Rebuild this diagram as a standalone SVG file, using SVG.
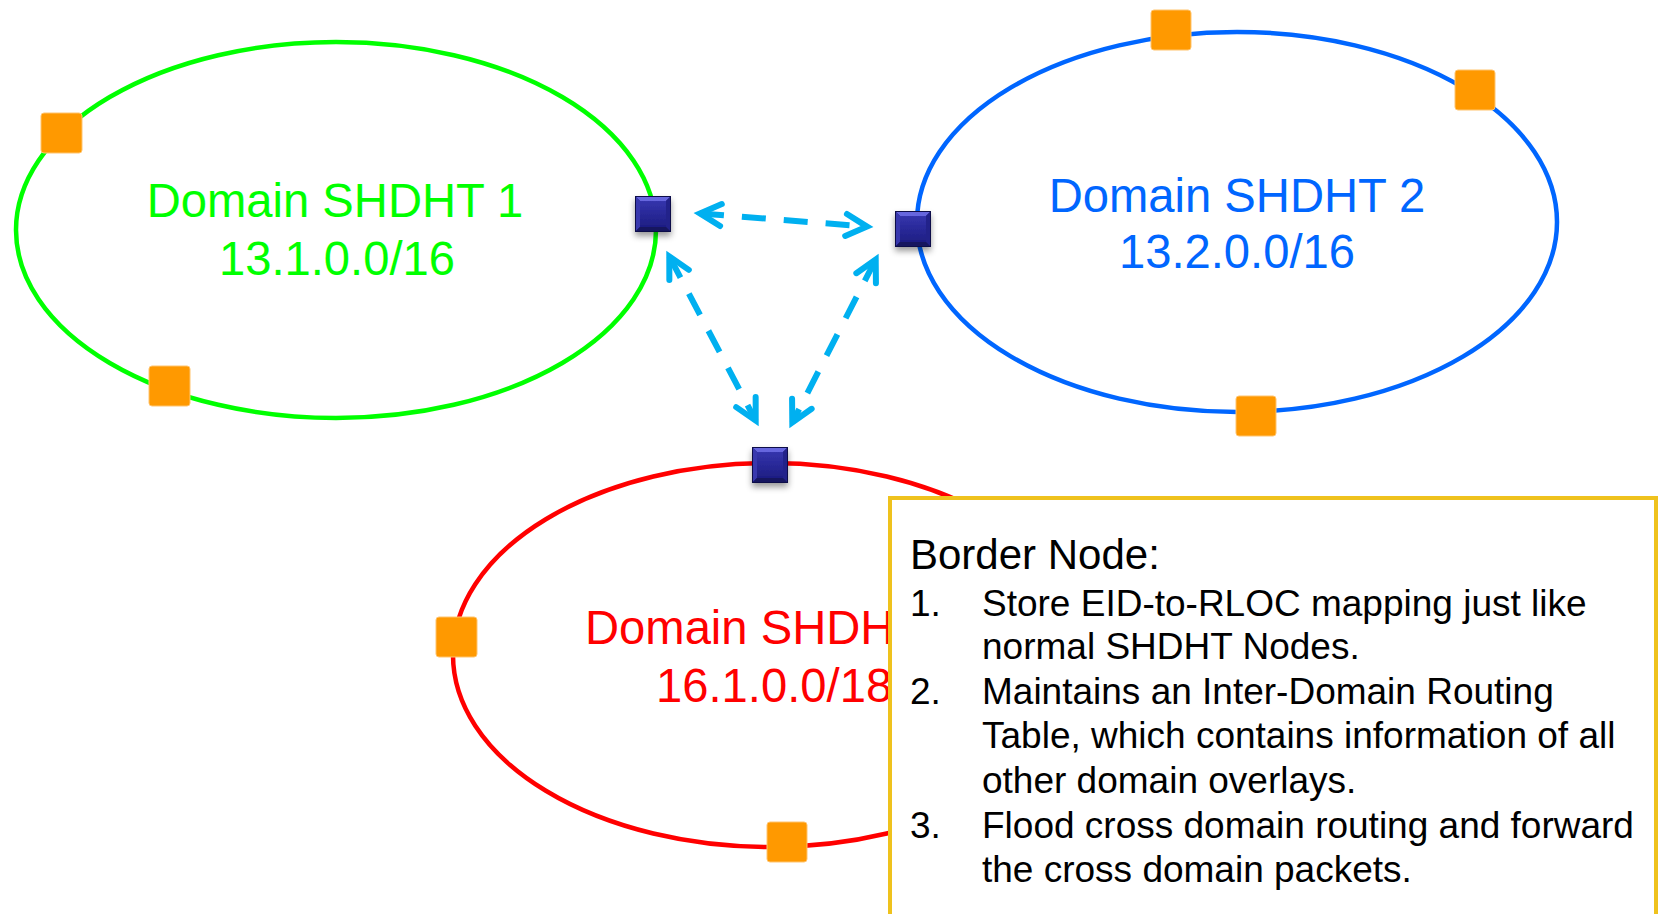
<svg xmlns="http://www.w3.org/2000/svg" xmlns:xlink="http://www.w3.org/1999/xlink" width="1660" height="914" viewBox="0 0 1660 914">
  <style>
    .ring { fill: none; stroke-width: 4.5; }
    .label { font-family: "Liberation Sans", Arial, sans-serif; font-size: 47.2px; text-anchor: middle; }
    .peer { fill: #FF9900; stroke: #FFC46E; stroke-width: 1; }
    .link { fill: none; stroke: #00B0F0; stroke-width: 6; stroke-dasharray: 24 18; marker-start: url(#chev); marker-end: url(#chev); }
    .note { font-family: "Liberation Sans", Arial, sans-serif; font-size: 37px; fill: #000; }
  </style>
  <defs>
    <linearGradient id="navyFace" x1="0" y1="0" x2="0" y2="1">
      <stop offset="0" stop-color="#3434AC"/>
      <stop offset="1" stop-color="#1E1E84"/>
    </linearGradient>
    <filter id="shadow" x="-30%" y="-30%" width="160%" height="170%">
      <feDropShadow dx="0" dy="4" stdDeviation="3" flood-color="#000" flood-opacity="0.4"/>
    </filter>
    <marker id="chev" markerUnits="userSpaceOnUse" orient="auto-start-reverse" refX="0" refY="0" markerWidth="40" markerHeight="40" overflow="visible">
      <path d="M -21,-11 L 0,0 L -21,11" fill="none" stroke="#00B0F0" stroke-width="6" stroke-linecap="round" stroke-linejoin="miter" stroke-dasharray="none"/>
    </marker>
    <!-- bevelled border-node tile, 36 x 36 -->
    <g id="borderTile">
      <rect width="36" height="36" fill="#1B1B70"/>
      <polygon points="0,0 36,0 31,5 5,5" fill="#6666DE"/>
      <polygon points="0,0 5,5 5,31 0,36" fill="#3838AE"/>
      <polygon points="36,0 36,36 31,31 31,5" fill="#22228A"/>
      <polygon points="0,36 36,36 31,31 5,31" fill="#16165E"/>
      <rect x="5" y="5" width="26" height="26" fill="url(#navyFace)"/>
      <rect x="0.5" y="0.5" width="35" height="35" fill="none" stroke="#0E0E48" stroke-width="1"/>
    </g>
  </defs>

  <rect width="1660" height="914" fill="#FFFFFF"/>

  <!-- domain overlays -->
  <g id="domain1">
    <ellipse class="ring" cx="336" cy="230" rx="320" ry="188" stroke="#00FF00"/>
    <text class="label" x="335" y="217" fill="#00FF00">Domain SHDHT 1</text>
    <text class="label" x="337" y="275" fill="#00FF00">13.1.0.0/16</text>
  </g>
  <g id="domain2">
    <ellipse class="ring" cx="1237" cy="222" rx="320" ry="190" stroke="#0066FF"/>
    <text class="label" x="1237" y="212" fill="#0066FF">Domain SHDHT 2</text>
    <text class="label" x="1237" y="268" fill="#0066FF">13.2.0.0/16</text>
  </g>
  <g id="domain3">
    <ellipse class="ring" cx="770" cy="655" rx="317" ry="192" stroke="#FF0000"/>
    <text class="label" x="585" y="644" fill="#FF0000" style="text-anchor:start">Domain SHDH</text>
    <text class="label" x="656" y="702" fill="#FF0000" style="text-anchor:start">16.1.0.0/18</text>
  </g>

  <!-- ordinary SHDHT nodes -->
  <g id="peer-1a"><rect class="peer" x="41" y="113" width="41" height="40" rx="3"/></g>
  <g id="peer-1b"><rect class="peer" x="149" y="366" width="41" height="40" rx="3"/></g>
  <g id="peer-2a"><rect class="peer" x="1151" y="10" width="40" height="40" rx="3"/></g>
  <g id="peer-2b"><rect class="peer" x="1455" y="70" width="40" height="40" rx="3"/></g>
  <g id="peer-2c"><rect class="peer" x="1236" y="396" width="40" height="40" rx="3"/></g>
  <g id="peer-3a"><rect class="peer" x="436" y="617" width="41" height="40" rx="3"/></g>
  <g id="peer-3b"><rect class="peer" x="767" y="822" width="40" height="40" rx="3"/></g>

  <!-- border nodes -->
  <g id="border-1" filter="url(#shadow)"><use xlink:href="#borderTile" x="635" y="196"/></g>
  <g id="border-2" filter="url(#shadow)"><use xlink:href="#borderTile" x="895" y="211"/></g>
  <g id="border-3" filter="url(#shadow)"><use xlink:href="#borderTile" x="752" y="447"/></g>

  <!-- inter-domain links -->
  <g id="connectors">
    <line class="link" x1="700" y1="213.4" x2="867" y2="226.6"/>
    <line class="link" x1="669.3" y1="256.4" x2="755.7" y2="420.6"/>
    <line class="link" x1="875.7" y1="259.5" x2="792.3" y2="422.5"/>
  </g>

  <!-- border node description -->
  <g id="note">
    <rect x="890" y="498" width="766" height="480" fill="#FFFFFF" stroke="#EFC21D" stroke-width="4"/>
    <text class="note" x="910" y="569" style="font-size:42px">Border Node:</text>
    <text class="note" x="910" y="616">1.</text>
    <text class="note" x="982" y="616">Store EID-to-RLOC mapping just like</text>
    <text class="note" x="982" y="659">normal SHDHT Nodes.</text>
    <text class="note" x="910" y="704">2.</text>
    <text class="note" x="982" y="704">Maintains an Inter-Domain Routing</text>
    <text class="note" x="982" y="748">Table, which contains information of all</text>
    <text class="note" x="982" y="793">other domain overlays.</text>
    <text class="note" x="910" y="838">3.</text>
    <text class="note" x="982" y="838">Flood cross domain routing and forward</text>
    <text class="note" x="982" y="882">the cross domain packets.</text>
  </g>
</svg>
